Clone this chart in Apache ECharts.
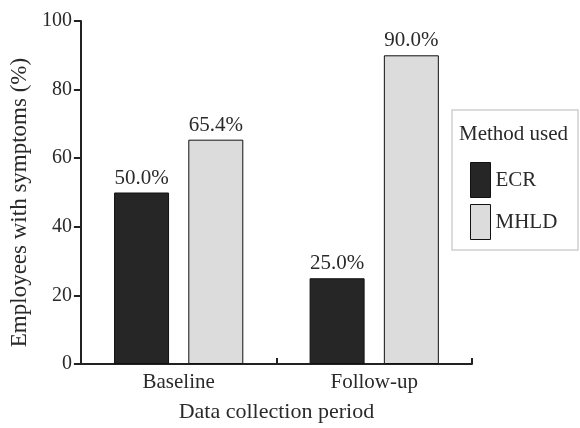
<!DOCTYPE html>
<html><head><meta charset="utf-8">
<script src="https://cdn.jsdelivr.net/npm/echarts@6/dist/echarts.min.js"></script>
<style>html,body{margin:0;padding:0;background:#fff}#c{width:580px;height:428px}</style>
</head><body><div id="c"></div>
<script>
const categories = ['Baseline', 'Follow-up'];
const ecrValues = [50.0, 25.0];
const mhldValues = [65.4, 90.0];
const yTicks = [0, 20, 40, 60, 80, 100];

const FONT = 'Liberation Serif';
const TXT = '#2a2a2a';
const chart = echarts.init(document.getElementById('c'));
chart.setOption({
  animation: false,
  backgroundColor: '#fff',
  textStyle: { fontFamily: FONT, color: TXT },
  grid: { left: 80, right: 108, top: 21, bottom: 62 },
  graphic: [
    { type: 'rect', shape: { x: 452, y: 110, width: 126, height: 140 },
      style: { fill: '#fff', stroke: '#d0d0d0', lineWidth: 1.5 }, z: 0 },
    { type: 'text', left: 459, top: 124,
      style: { text: 'Method used', font: '21px "Liberation Serif"', fill: TXT }, z: 5 }
  ],
  legend: {
    orient: 'vertical', left: 465, top: 157, itemWidth: 20, itemHeight: 35, itemGap: 6,
    icon: 'rect',
    textStyle: { fontFamily: FONT, fontSize: 21, color: TXT },
    data: [
      { name: 'ECR', itemStyle: { color: '#262626', borderColor: '#111', borderWidth: 1 } },
      { name: 'MHLD', itemStyle: { color: '#dcdcdc', borderColor: '#111', borderWidth: 1 } }
    ]
  },
  xAxis: {
    type: 'category', data: categories,
    name: 'Data collection period', nameLocation: 'middle', nameGap: 37,
    nameTextStyle: { fontFamily: FONT, fontSize: 22, color: TXT },
    axisLine: { lineStyle: { color: '#222', width: 2 } },
    axisTick: { show: true, inside: true, length: 6, lineStyle: { color: '#222', width: 2 } },
    axisLabel: { fontFamily: FONT, fontSize: 21, color: TXT, margin: 8 }
  },
  yAxis: {
    type: 'value', min: 0, max: 100, interval: 20,
    name: 'Employees with symptoms (%)', nameLocation: 'middle', nameGap: 48,
    nameTextStyle: { fontFamily: FONT, fontSize: 23, color: TXT, padding: [0, 20, 0, 0] },
    axisLine: { show: true, lineStyle: { color: '#222', width: 2 } },
    axisTick: { show: true, length: 7, lineStyle: { color: '#222', width: 2 } },
    splitLine: { show: false },
    axisLabel: { fontFamily: FONT, fontSize: 20, color: TXT, margin: 9,
      formatter: v => yTicks.includes(v) ? String(v) : '' }
  },
  series: [
    { name: 'ECR', type: 'bar', data: ecrValues, barWidth: 55, barGap: '35%',
      itemStyle: { color: '#262626', borderColor: '#111', borderWidth: 1 },
      label: { show: true, position: 'top', distance: 4, fontFamily: FONT, fontSize: 21, color: TXT,
        formatter: p => p.value.toFixed(1) + '%' } },
    { name: 'MHLD', type: 'bar', data: mhldValues, barWidth: 55,
      itemStyle: { color: '#dcdcdc', borderColor: '#111', borderWidth: 1 },
      label: { show: true, position: 'top', distance: 4, fontFamily: FONT, fontSize: 21, color: TXT,
        formatter: p => p.value.toFixed(1) + '%' } }
  ]
});
</script></body></html>
